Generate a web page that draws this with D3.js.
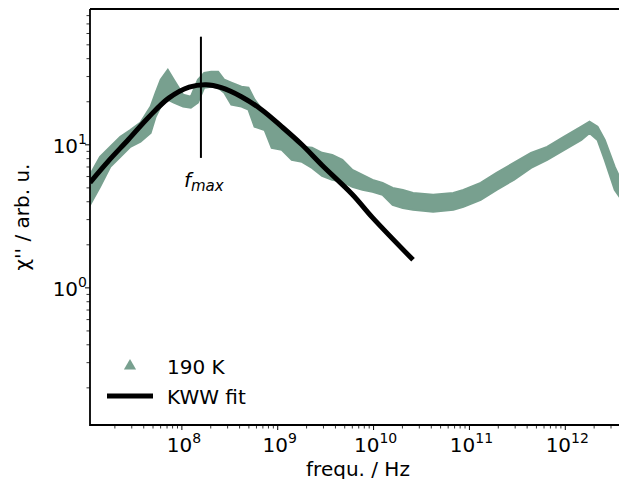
<!DOCTYPE html>
<html>
<head>
<meta charset="utf-8">
<script src="https://cdn.jsdelivr.net/npm/d3@7"></script>
<style>
  body { margin: 0; background: #fff; }
  svg { font-family: "DejaVu Sans", sans-serif; }
</style>
</head>
<body>
<svg id="chart" width="619" height="479"></svg>
<script>
// 190 K susceptibility band (upper / lower edge of the marker cloud)
var freq = [1.10e7, 1.40e7, 1.79e7, 2.28e7, 2.90e7, 3.70e7, 4.72e7, 5.32e7, 6.01e7, 7.13e7,
            8.24e7, 1.03e8, 1.24e8, 1.47e8, 1.71e8, 2.02e8, 2.39e8, 2.77e8, 3.28e8, 4.18e8,
            4.95e8, 5.73e8, 7.29e8, 8.65e8, 1.10e9, 1.40e9, 1.79e9, 2.28e9, 2.90e9, 3.70e9,
            4.72e9, 6.01e9, 7.66e9, 9.75e9, 1.24e10, 1.58e10, 2.02e10, 2.58e10, 4.18e10, 6.79e10,
            8.65e10, 1.31e11, 1.92e11, 2.90e11, 4.39e11, 6.47e11, 9.75e11, 1.47e12, 1.79e12, 2.17e12,
            2.58e12, 3.28e12, 4.08e12];
var chiHigh = [6.17, 8.24, 9.68, 11.4, 12.7, 14.3, 18.5, 23.1, 28.5, 33.4,
               28.5, 22.4, 21.7, 28.5, 31.8, 32.4, 32.4, 28.5, 27.2, 25.5,
               25.1, 20.7, 16.7, 15.0, 12.7, 10.8, 9.68, 9.53, 8.79, 8.51,
               7.85, 6.68, 6.17, 5.69, 5.42, 5.00, 4.84, 4.61, 4.47, 4.61,
               4.84, 5.42, 6.37, 7.48, 8.79, 9.68, 11.4, 13.4, 14.5, 13.4,
               10.8, 7.01, 5.08];
var chiLow = [3.80, 5.08, 7.01, 8.24, 9.68, 10.5, 12.1, 15.7, 18.5, 20.7,
              19.7, 18.5, 18.2, 19.7, 25.1, 25.5, 25.1, 23.1, 19.1, 18.5,
              17.6, 13.4, 12.7, 9.53, 9.23, 7.85, 7.60, 6.90, 6.07, 5.69,
              5.51, 5.08, 4.84, 4.69, 4.47, 3.80, 3.62, 3.51, 3.40, 3.51,
              3.68, 4.12, 4.84, 5.69, 6.90, 7.85, 9.23, 10.8, 12.1, 10.8,
              7.85, 4.84, 3.93];

// KWW fit curve
var fitFreq = [1.10e7, 1.71e7, 2.77e7, 4.50e7, 7.29e7, 1.19e8, 1.79e8, 2.58e8, 4.18e8, 6.79e8,
               1.10e9, 1.79e9, 2.90e9, 6.01e9, 9.75e9, 2.58e10];
var fitChi = [5.45, 7.7, 10.9, 15.6, 21.2, 25.3, 26.3, 25.1, 21.7, 17.6,
              13.4, 10.0, 7.2, 4.5, 3.1, 1.57];

var fMax = 1.58e8;
var fMaxRange = [8.1, 57];

var xMajor = [1e8, 1e9, 1e10, 1e11, 1e12];
var yMajor = [1, 10];
var legendLabels = ["190 K", "KWW fit"];

var green = "#78a08f";

var svg = d3.select("#chart"),
    mLeft = 90, mRight = 626, mTop = 9, mBottom = 425;

var x = d3.scaleLog().domain([1.10e7, 4.3e12]).range([mLeft, mRight]);
var y = d3.scaleLog().domain([0.11, 89]).range([mBottom, mTop]);

svg.append("defs").append("clipPath").attr("id", "plotclip")
   .append("rect").attr("x", mLeft).attr("y", mTop)
   .attr("width", mRight - mLeft).attr("height", mBottom - mTop);

var plot = svg.append("g").attr("clip-path", "url(#plotclip)");

var band = d3.area()
    .x(function(d, i) { return x(freq[i]); })
    .y0(function(d, i) { return y(chiLow[i]); })
    .y1(function(d, i) { return y(chiHigh[i]); });

plot.append("path")
    .attr("d", band(freq))
    .attr("fill", green)
    .attr("stroke", green)
    .attr("stroke-width", 2);

var fitLine = d3.line()
    .x(function(d, i) { return x(fitFreq[i]); })
    .y(function(d, i) { return y(fitChi[i]); })
    .curve(d3.curveCatmullRom);

plot.append("path")
    .attr("d", fitLine(fitFreq))
    .attr("fill", "none")
    .attr("stroke", "#000")
    .attr("stroke-width", 5);

// f_max marker
svg.append("line")
   .attr("x1", x(fMax)).attr("x2", x(fMax))
   .attr("y1", y(fMaxRange[0])).attr("y2", y(fMaxRange[1]))
   .attr("stroke", "#000").attr("stroke-width", 2);

var fLabel = svg.append("text")
   .attr("x", x(fMax) - 17).attr("y", 187)
   .attr("font-size", 20).attr("font-style", "italic");
fLabel.append("tspan").text("f");
fLabel.append("tspan").attr("dy", 4).attr("font-size", 15).text("max");

// ticks
var xMinor = x.ticks(60).filter(function(t) { return xMajor.indexOf(t) < 0; });
var yMinor = y.ticks(40).filter(function(t) { return yMajor.indexOf(t) < 0; });

svg.append("g").selectAll("line").data(xMinor).enter().append("line")
   .attr("x1", function(d) { return x(d); }).attr("x2", function(d) { return x(d); })
   .attr("y1", mBottom).attr("y2", mBottom + 3.5)
   .attr("stroke", "#000").attr("stroke-width", 0.8);
svg.append("g").selectAll("line").data(xMajor).enter().append("line")
   .attr("x1", function(d) { return x(d); }).attr("x2", function(d) { return x(d); })
   .attr("y1", mBottom).attr("y2", mBottom + 5)
   .attr("stroke", "#000").attr("stroke-width", 1);

svg.append("g").selectAll("line").data(yMinor).enter().append("line")
   .attr("y1", function(d) { return y(d); }).attr("y2", function(d) { return y(d); })
   .attr("x1", mLeft).attr("x2", mLeft - 3.5)
   .attr("stroke", "#000").attr("stroke-width", 0.8);
svg.append("g").selectAll("line").data(yMajor).enter().append("line")
   .attr("y1", function(d) { return y(d); }).attr("y2", function(d) { return y(d); })
   .attr("x1", mLeft).attr("x2", mLeft - 5)
   .attr("stroke", "#000").attr("stroke-width", 1);

function powLabel(sel, d) {
    sel.append("tspan").text("10");
    sel.append("tspan").attr("dy", -9).attr("font-size", 14)
       .text(Math.round(Math.log10(d)));
}

svg.append("g").selectAll("text").data(xMajor).enter().append("text")
   .attr("x", function(d) { return x(d) + 2; }).attr("y", 452)
   .attr("text-anchor", "middle").attr("font-size", 20)
   .each(function(d) { powLabel(d3.select(this), d); });

svg.append("g").selectAll("text").data(yMajor).enter().append("text")
   .attr("x", 87).attr("y", function(d) { return y(d) + 8; })
   .attr("text-anchor", "end").attr("font-size", 20)
   .each(function(d) { powLabel(d3.select(this), d); });

// spines
svg.append("path")
   .attr("d", "M" + mLeft + "," + mTop + "V" + mBottom + "H619M" + mLeft + "," + mTop + "H619")
   .attr("fill", "none").attr("stroke", "#000").attr("stroke-width", 1.8);

// axis titles
svg.append("text")
   .attr("x", (mLeft + mRight) / 2).attr("y", 476)
   .attr("text-anchor", "middle").attr("font-size", 20)
   .text("frequ. / Hz");

svg.append("text")
   .attr("transform", "translate(29," + ((mTop + mBottom) / 2) + ") rotate(-90)")
   .attr("text-anchor", "middle").attr("font-size", 20)
   .text("\u03c7'' / arb. u.");

// legend
var legend = svg.append("g");
legend.append("path")
   .attr("d", d3.symbol(d3.symbolTriangle, 64)())
   .attr("transform", "translate(130,366)")
   .attr("fill", green);
legend.append("line")
   .attr("x1", 107).attr("x2", 153).attr("y1", 396).attr("y2", 396)
   .attr("stroke", "#000").attr("stroke-width", 5);
legend.selectAll("text").data(legendLabels).enter().append("text")
   .attr("x", 167).attr("y", function(d, i) { return 374 + i * 30; })
   .attr("font-size", 20)
   .text(function(d) { return d; });
</script>
</body>
</html>
